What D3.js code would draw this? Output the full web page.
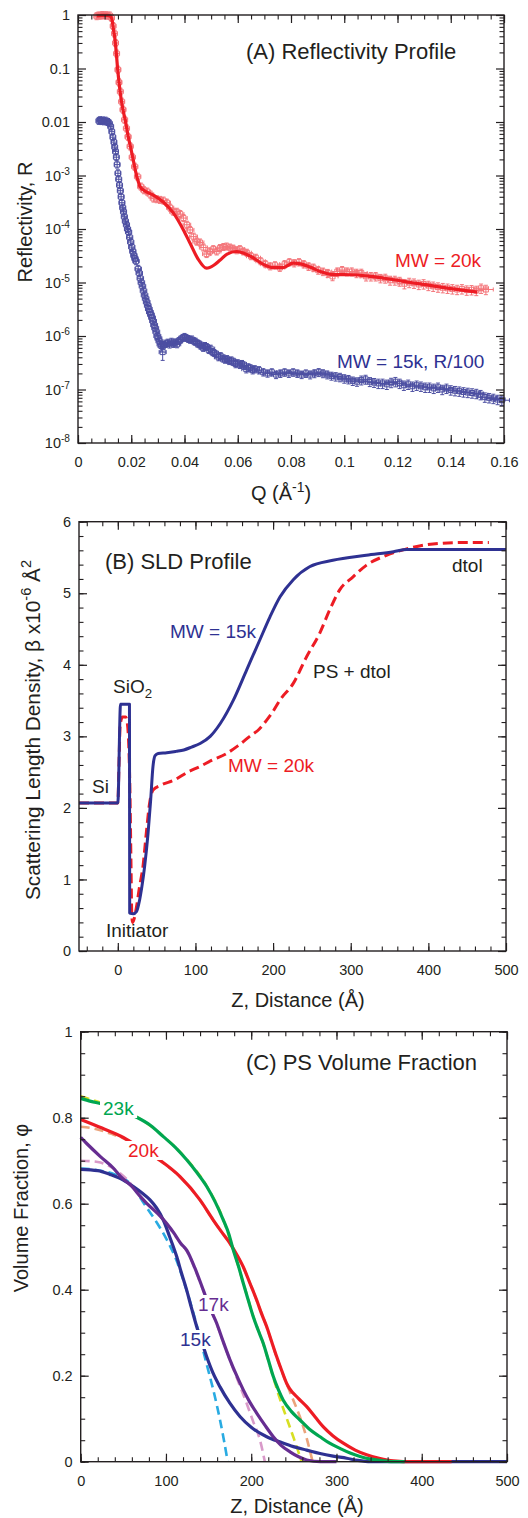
<!DOCTYPE html>
<html>
<head>
<meta charset="utf-8">
<script src="https://cdn.jsdelivr.net/npm/d3@7"></script>
<style>
  body { margin: 0; background: #fff; }
  svg { display: block; font-family: "Liberation Sans", Arial, Helvetica, sans-serif; }
</style>
</head>
<body>
<div id="chart"></div>
<script>
// ---------- (A) reflectivity: [Q, R, relative error] ----------
const reflData20k = [
  [0.0070, 0.95, 0.04], [0.0077, 0.98, 0.04], [0.0084, 0.97, 0.04], [0.0091, 1.0, 0.04],
  [0.0098, 0.98, 0.04], [0.0105, 0.99, 0.04], [0.0112, 0.97, 0.04], [0.0119, 0.98, 0.04],
  [0.0126, 0.88, 0.04], [0.0132, 0.62, 0.04], [0.0137, 0.45, 0.04], [0.0141, 0.30, 0.04],
  [0.0145, 0.19, 0.04], [0.0150, 0.095, 0.04], [0.0154, 0.055, 0.04], [0.0159, 0.037, 0.04],
  [0.0164, 0.024, 0.04], [0.0169, 0.017, 0.04], [0.0175, 0.011, 0.04], [0.0182, 0.0076, 0.04],
  [0.0188, 0.0053, 0.04], [0.0196, 0.0035, 0.04], [0.0204, 0.0022, 0.05], [0.0213, 0.00146, 0.05],
  [0.0224, 0.00095, 0.05], [0.0236, 0.00062, 0.05], [0.0248, 0.00053, 0.06], [0.0260, 0.00050, 0.06],
  [0.0272, 0.00044, 0.06], [0.0284, 0.00037, 0.07], [0.0296, 0.00036, 0.07], [0.0308, 0.00035, 0.07],
  [0.0321, 0.00034, 0.08], [0.0334, 0.00031, 0.08], [0.0346, 0.00025, 0.08], [0.0358, 0.00021, 0.09],
  [0.0371, 0.00021, 0.09], [0.0384, 0.00019, 0.09], [0.0396, 0.00016, 0.1], [0.0409, 0.00012, 0.1],
  [0.0421, 0.000096, 0.1], [0.0434, 0.000072, 0.1], [0.0446, 0.000058, 0.12], [0.0458, 0.000056, 0.12],
  [0.0471, 0.000045, 0.12], [0.0483, 0.000034, 0.14], [0.0496, 0.000038, 0.14], [0.0508, 0.000042, 0.12],
  [0.0521, 0.000038, 0.12], [0.0533, 0.000044, 0.12], [0.0546, 0.000046, 0.12], [0.0558, 0.000047, 0.12],
  [0.0571, 0.000045, 0.12], [0.0583, 0.000043, 0.12], [0.0596, 0.000040, 0.12], [0.0608, 0.000042, 0.12],
  [0.0621, 0.000038, 0.12], [0.0634, 0.000036, 0.12], [0.0650, 0.000031, 0.13], [0.0668, 0.000029, 0.13],
  [0.0686, 0.000025, 0.13], [0.0704, 0.000022, 0.14], [0.0722, 0.000020, 0.14], [0.0740, 0.000021, 0.14],
  [0.0758, 0.000019, 0.15], [0.0776, 0.000022, 0.15], [0.0794, 0.000024, 0.15], [0.0812, 0.000023, 0.15],
  [0.0830, 0.000024, 0.15], [0.0848, 0.000022, 0.15], [0.0866, 0.000020, 0.16], [0.0884, 0.000019, 0.16],
  [0.0902, 0.000017, 0.16], [0.0920, 0.000016, 0.16], [0.0938, 0.000015, 0.17], [0.0956, 0.000013, 0.17],
  [0.0974, 0.000016, 0.17], [0.0992, 0.000017, 0.17], [0.1010, 0.000016, 0.17], [0.1028, 0.000016, 0.17],
  [0.1046, 0.000015, 0.18], [0.1064, 0.000015, 0.18], [0.1082, 0.000013, 0.18], [0.1100, 0.000013, 0.18],
  [0.1118, 0.000013, 0.18], [0.1136, 0.000012, 0.18], [0.1154, 0.000012, 0.19], [0.1172, 0.000011, 0.19],
  [0.1190, 0.000011, 0.19], [0.1208, 0.0000105, 0.19], [0.1226, 0.0000095, 0.2], [0.1244, 0.0000100, 0.2],
  [0.1262, 0.0000097, 0.2], [0.1280, 0.0000092, 0.2], [0.1298, 0.0000094, 0.2], [0.1316, 0.0000088, 0.2],
  [0.1334, 0.0000085, 0.2], [0.1352, 0.0000082, 0.2], [0.1370, 0.0000080, 0.2], [0.1388, 0.0000078, 0.2],
  [0.1406, 0.0000076, 0.2], [0.1424, 0.0000074, 0.2], [0.1442, 0.0000076, 0.2], [0.1460, 0.0000072, 0.2],
  [0.1478, 0.0000073, 0.2], [0.1496, 0.0000071, 0.2], [0.1514, 0.0000078, 0.2], [0.1532, 0.0000074, 0.2]
];

const reflFit20k = [
  [0.0070, 0.96], [0.0090, 0.98], [0.0110, 0.98], [0.0122, 0.95], [0.0128, 0.80], [0.0133, 0.55],
  [0.0138, 0.38], [0.0143, 0.22], [0.0148, 0.11], [0.0155, 0.05], [0.0163, 0.025], [0.0170, 0.016],
  [0.0178, 0.0105], [0.0188, 0.0055], [0.0198, 0.0033], [0.0208, 0.0019], [0.0218, 0.0011],
  [0.0226, 0.00078], [0.0233, 0.00062], [0.0250, 0.00052], [0.0283, 0.00043], [0.0320, 0.00032],
  [0.0358, 0.00020], [0.0396, 0.000096], [0.0421, 0.000054], [0.0450, 0.000028], [0.0483, 0.0000185],
  [0.0510, 0.000021], [0.0533, 0.000026], [0.0560, 0.000034], [0.0596, 0.000038], [0.0625, 0.000035],
  [0.0658, 0.000029], [0.0695, 0.000022], [0.0733, 0.000019], [0.0770, 0.000019], [0.0808, 0.000023],
  [0.0840, 0.000022], [0.0871, 0.0000195], [0.0910, 0.0000160], [0.0950, 0.0000142], [0.1000, 0.0000140],
  [0.1050, 0.0000138], [0.1100, 0.0000130], [0.1150, 0.0000120], [0.1200, 0.0000110], [0.1250, 0.0000100],
  [0.1300, 0.0000092], [0.1350, 0.0000084], [0.1400, 0.0000077], [0.1450, 0.0000071], [0.1500, 0.0000066]
];

const reflData15k = [
  [0.0078, 0.0105, 0.04], [0.0083, 0.0108, 0.04], [0.0088, 0.0104, 0.04], [0.0093, 0.0107, 0.04],
  [0.0098, 0.0103, 0.04], [0.0103, 0.0106, 0.04], [0.0108, 0.0102, 0.04], [0.0113, 0.0100, 0.04],
  [0.0118, 0.0094, 0.04], [0.0123, 0.0082, 0.04], [0.0127, 0.0066, 0.04], [0.0131, 0.0052, 0.04],
  [0.0135, 0.0042, 0.04], [0.0138, 0.0034, 0.04], [0.0141, 0.0028, 0.04], [0.0144, 0.0022, 0.04],
  [0.0147, 0.0016, 0.04], [0.0150, 0.0011, 0.04], [0.0153, 0.00085, 0.04], [0.0156, 0.00066, 0.04],
  [0.0159, 0.00052, 0.04], [0.0162, 0.00040, 0.04], [0.0165, 0.00031, 0.04], [0.0168, 0.00025, 0.04],
  [0.0171, 0.00021, 0.04], [0.0174, 0.00017, 0.04], [0.0178, 0.00014, 0.04], [0.0182, 0.00012, 0.04],
  [0.0186, 0.00010, 0.04], [0.0190, 0.000088, 0.04], [0.0194, 0.000070, 0.04], [0.0198, 0.000057, 0.04],
  [0.0202, 0.000046, 0.04], [0.0206, 0.000038, 0.04], [0.0210, 0.000032, 0.05], [0.0214, 0.000028, 0.05],
  [0.0218, 0.000025, 0.05], [0.0226, 0.000018, 0.05], [0.0230, 0.000015, 0.05], [0.0234, 0.000012, 0.05],
  [0.0238, 0.0000100, 0.05], [0.0242, 0.0000085, 0.05], [0.0246, 0.0000070, 0.06], [0.0250, 0.0000058, 0.06],
  [0.0254, 0.0000050, 0.06], [0.0258, 0.0000043, 0.06], [0.0262, 0.0000037, 0.06], [0.0266, 0.0000032, 0.06],
  [0.0270, 0.0000028, 0.07], [0.0274, 0.0000025, 0.07], [0.0278, 0.0000022, 0.07], [0.0282, 0.0000019, 0.07],
  [0.0286, 0.0000016, 0.08], [0.0290, 0.0000014, 0.08], [0.0294, 0.0000012, 0.08], [0.0298, 0.0000010, 0.1],
  [0.0302, 0.00000090, 0.1], [0.0306, 0.00000080, 0.12], [0.0310, 0.00000070, 0.15], [0.0314, 0.00000065, 0.2],
  [0.0318, 0.00000050, 0.3], [0.0323, 0.00000068, 0.15], [0.0330, 0.00000072, 0.15], [0.0337, 0.00000075, 0.15],
  [0.0344, 0.00000070, 0.15], [0.0351, 0.00000078, 0.15], [0.0358, 0.00000072, 0.15], [0.0365, 0.00000076, 0.12],
  [0.0372, 0.00000070, 0.12], [0.0379, 0.00000080, 0.12], [0.0386, 0.00000086, 0.12], [0.0393, 0.00000092, 0.12],
  [0.0400, 0.00000096, 0.12], [0.0407, 0.00000092, 0.12], [0.0414, 0.00000088, 0.12], [0.0421, 0.00000085, 0.12],
  [0.0428, 0.00000086, 0.12], [0.0435, 0.00000080, 0.12], [0.0442, 0.00000078, 0.12], [0.0449, 0.00000072, 0.12],
  [0.0456, 0.00000070, 0.12], [0.0463, 0.00000066, 0.12], [0.0470, 0.00000060, 0.12], [0.0477, 0.00000065, 0.14],
  [0.0484, 0.00000062, 0.14], [0.0491, 0.00000055, 0.14], [0.0498, 0.00000058, 0.14], [0.0505, 0.00000050, 0.14],
  [0.0512, 0.00000048, 0.14], [0.0520, 0.00000045, 0.14], [0.0528, 0.00000040, 0.14], [0.0536, 0.00000042, 0.14],
  [0.0544, 0.00000038, 0.14], [0.0552, 0.00000036, 0.14], [0.0560, 0.00000037, 0.14], [0.0568, 0.00000034, 0.14],
  [0.0576, 0.00000035, 0.14], [0.0584, 0.00000033, 0.15], [0.0592, 0.00000030, 0.15], [0.0600, 0.00000031, 0.15],
  [0.0608, 0.00000029, 0.15], [0.0616, 0.00000030, 0.15], [0.0624, 0.00000028, 0.15], [0.0632, 0.00000024, 0.15],
  [0.0640, 0.00000026, 0.15], [0.0648, 0.00000025, 0.15], [0.0656, 0.00000023, 0.15], [0.0664, 0.00000024, 0.15],
  [0.0680, 0.00000023, 0.15], [0.0696, 0.00000021, 0.15], [0.0712, 0.00000020, 0.15], [0.0728, 0.00000021, 0.15],
  [0.0744, 0.00000019, 0.16], [0.0760, 0.00000020, 0.16], [0.0776, 0.00000021, 0.16], [0.0792, 0.00000020, 0.16],
  [0.0808, 0.00000021, 0.16], [0.0824, 0.00000020, 0.16], [0.0840, 0.00000019, 0.16], [0.0856, 0.00000020, 0.16],
  [0.0872, 0.00000019, 0.17], [0.0888, 0.00000020, 0.17], [0.0904, 0.00000021, 0.17], [0.0920, 0.00000020, 0.17],
  [0.0936, 0.00000019, 0.17], [0.0952, 0.00000018, 0.17], [0.0968, 0.000000175, 0.18], [0.0984, 0.00000017, 0.18],
  [0.1000, 0.00000016, 0.18], [0.1016, 0.000000155, 0.18], [0.1032, 0.000000145, 0.18], [0.1048, 0.00000014, 0.18],
  [0.1064, 0.00000015, 0.19], [0.1080, 0.000000155, 0.19], [0.1096, 0.00000014, 0.19], [0.1112, 0.000000135, 0.19],
  [0.1128, 0.00000013, 0.2], [0.1144, 0.00000013, 0.2], [0.1160, 0.000000125, 0.2], [0.1176, 0.000000135, 0.2],
  [0.1192, 0.00000014, 0.2], [0.1208, 0.00000013, 0.2], [0.1224, 0.00000012, 0.2], [0.1240, 0.000000125, 0.2],
  [0.1256, 0.000000115, 0.2], [0.1272, 0.00000012, 0.2], [0.1288, 0.000000115, 0.2], [0.1304, 0.00000011, 0.2],
  [0.1320, 0.00000011, 0.2], [0.1336, 0.000000105, 0.2], [0.1352, 0.00000011, 0.2], [0.1368, 0.00000010, 0.2],
  [0.1384, 0.000000105, 0.2], [0.1400, 0.000000098, 0.2], [0.1416, 0.000000095, 0.2], [0.1432, 0.000000093, 0.2],
  [0.1448, 0.00000009, 0.2], [0.1464, 0.000000088, 0.2], [0.1480, 0.000000086, 0.2], [0.1496, 0.000000084, 0.2],
  [0.1512, 0.00000008, 0.2], [0.1528, 0.000000072, 0.2], [0.1544, 0.00000007, 0.2], [0.1560, 0.000000068, 0.2],
  [0.1576, 0.000000065, 0.2], [0.1592, 0.000000063, 0.2]
];

const qTicks = [0, 0.02, 0.04, 0.06, 0.08, 0.1, 0.12, 0.14, 0.16];
const qTickLabels = ["0", "0.02", "0.04", "0.06", "0.08", "0.1", "0.12", "0.14", "0.16"];
const rTicks = [1, 0.1, 0.01, 1e-3, 1e-4, 1e-5, 1e-6, 1e-7, 1e-8];
const rTickLabels = [[["1", 0]], [["0.1", 0]], [["0.01", 0]], [["10", 0], ["-3", 1]], [["10", 0], ["-4", 1]],
  [["10", 0], ["-5", 1]], [["10", 0], ["-6", 1]], [["10", 0], ["-7", 1]], [["10", 0], ["-8", 1]]];

// ---------- (B) SLD profile: [z, SLD] ----------
const sld15k = [
  [-50, 2.07], [0, 2.07], [3.5, 3.45], [15, 3.45], [15.3, 0.53], [20, 0.52], [24, 0.55], [28, 0.71],
  [31, 0.9], [34.5, 1.18], [38.9, 1.64], [42.3, 2.11], [45.3, 2.58], [48, 2.73], [52, 2.76], [63, 2.77],
  [75, 2.79], [85, 2.81], [95, 2.85], [106, 2.9], [119, 3.0], [132, 3.18], [149, 3.51], [166, 3.93],
  [183, 4.35], [196, 4.67], [209, 4.95], [226, 5.19], [247, 5.37], [277, 5.46], [320, 5.53], [355, 5.58],
  [372, 5.61], [400, 5.61], [500, 5.61]
];
const sld20k = [
  [-50, 2.07], [0, 2.07], [1.5, 2.6], [3, 3.15], [6, 3.27], [10, 3.27], [12, 3.2], [14, 2.9], [15.5, 2.3],
  [17, 1.2], [18, 0.5], [19, 0.4], [21, 0.45], [23.8, 0.6], [28, 0.9], [32.4, 1.18], [36.7, 1.65], [41, 2.07],
  [45.3, 2.25], [56, 2.32], [73, 2.39], [90, 2.5], [106, 2.58], [120, 2.66], [140, 2.76], [155, 2.87],
  [170, 3.0], [182, 3.1], [192, 3.23], [200, 3.35], [209, 3.51], [226, 3.74], [243, 4.11], [260, 4.44],
  [273, 4.77], [286, 5.05], [303, 5.23], [320, 5.39], [346, 5.53], [372, 5.62], [406, 5.69], [449, 5.71],
  [478, 5.71]
];
const zTicks = [0, 100, 200, 300, 400, 500];
const sldTicks = [0, 1, 2, 3, 4, 5, 6];

// ---------- (C) PS volume fraction: [z, phi] ----------
const phi23k = [
  [0, 0.845], [12, 0.838], [24.6, 0.832], [45, 0.818], [65.7, 0.801], [82, 0.782], [96.9, 0.756],
  [111, 0.731], [124.3, 0.702], [136, 0.673], [147.8, 0.640], [158, 0.603], [167.3, 0.562], [174, 0.528],
  [179, 0.492], [185, 0.455], [190.7, 0.415], [196.5, 0.376], [202.4, 0.337], [208.3, 0.305], [214.2, 0.275],
  [220, 0.237], [225.9, 0.198], [231.7, 0.168], [237.6, 0.143], [247, 0.117], [257.2, 0.097], [268, 0.076],
  [280.7, 0.058], [292, 0.043], [304.1, 0.031], [316, 0.02], [327.6, 0.012], [340, 0.006], [355, 0.002],
  [370, 0], [380, 0]
];
const fit23k = [
  [0, 0.85], [24.6, 0.834], [65.7, 0.802], [96.9, 0.757], [124.3, 0.703], [147.8, 0.641], [167.3, 0.563],
  [179, 0.493], [190.7, 0.416], [202.4, 0.338], [214.2, 0.274], [225.9, 0.196], [233, 0.15], [240, 0.11],
  [249.3, 0.058], [255, 0.025], [259, 0]
];
const phi20k = [
  [0, 0.796], [25, 0.776], [50, 0.754], [72, 0.727], [95, 0.698], [116.5, 0.663], [139.9, 0.609],
  [155.5, 0.562], [165, 0.535], [175.1, 0.508], [183, 0.482], [190.7, 0.453], [198.5, 0.415], [206.4, 0.376],
  [212, 0.345], [218.2, 0.314], [224, 0.279], [229.9, 0.244], [235.7, 0.212], [241.6, 0.182], [245, 0.17],
  [255, 0.148], [265.1, 0.128], [275, 0.104], [284.6, 0.081], [296, 0.06], [308, 0.043], [322, 0.027],
  [335.4, 0.016], [350, 0.008], [366.7, 0.002], [390, 0], [435, 0]
];
const fit20k = [
  [0, 0.779], [15, 0.775], [35, 0.763], [50, 0.752], [72, 0.725], [95, 0.697], [116.5, 0.662], [139.9, 0.608],
  [155.5, 0.561], [175.1, 0.507], [190.7, 0.452], [206.4, 0.375], [218.2, 0.313], [229.9, 0.243],
  [241.6, 0.181], [250, 0.14], [257, 0.105], [265, 0.055], [272, 0]
];
const phi17k = [
  [0, 0.754], [7, 0.74], [23.4, 0.709], [38.2, 0.683], [46.9, 0.663], [60, 0.64], [70.3, 0.616],
  [77.4, 0.601], [93.8, 0.57], [100.9, 0.554], [110, 0.53], [117.2, 0.508], [124.3, 0.492], [134, 0.45],
  [143.8, 0.399], [151, 0.36], [159.5, 0.322], [167, 0.28], [175.1, 0.237], [183, 0.2], [190.7, 0.167],
  [198.5, 0.138], [206.4, 0.113], [216, 0.085], [225.9, 0.058], [235, 0.038], [245.5, 0.023], [255, 0.012],
  [265.1, 0.004], [281, 0], [300, 0]
];
const fit17k = [
  [0, 0.70], [20, 0.697], [40, 0.68], [55, 0.655], [70.3, 0.616], [93.8, 0.57], [117.2, 0.508],
  [124.3, 0.49], [143.8, 0.398], [159.5, 0.32], [175.1, 0.236], [186, 0.18], [194.6, 0.136], [202, 0.095],
  [210.3, 0.05], [216, 0]
];
const phi15k = [
  [0, 0.68], [20, 0.677], [34.4, 0.668], [50, 0.655], [61.8, 0.64], [72, 0.625], [81.3, 0.609], [89, 0.59],
  [96.9, 0.562], [104, 0.525], [112.6, 0.477], [118, 0.44], [124.3, 0.399], [130, 0.357], [136.1, 0.314],
  [142, 0.278], [147.8, 0.244], [155, 0.207], [163.4, 0.174], [175, 0.136], [186.8, 0.105], [200, 0.08],
  [218.2, 0.058], [235, 0.045], [249.4, 0.035], [265, 0.027], [280.7, 0.019], [296, 0.013], [312, 0.008],
  [325, 0.003], [340, 0], [500, 0]
];
const fit15k = [
  [0, 0.682], [20, 0.678], [40, 0.668], [60, 0.643], [75, 0.598], [88, 0.56], [100, 0.52], [112, 0.47],
  [124, 0.40], [136, 0.318], [147.8, 0.226], [155.5, 0.167], [163.4, 0.097], [168, 0.05], [172.4, 0]
];
const phiTicks = [0, 0.2, 0.4, 0.6, 0.8, 1];
const phiTickLabels = ["0", "0.2", "0.4", "0.6", "0.8", "1"];

// ---------- drawing ----------
const INK = "#231f20", RED = "#ed1c24", NAVY = "#2e3192";
const GREEN = "#00a651", PURPLE = "#662d91";
const YELLOW = "#d7df23", TAN = "#eba47c", PINK = "#d99ac9", CYAN = "#29abe2";
const TICK_FONT = 14.5, AXIS_FONT = 20, TITLE_FONT = 22, LABEL_FONT = 19;

const svg = d3.select("#chart").append("svg").attr("width", 528).attr("height", 1518);
svg.append("rect").attr("width", 528).attr("height", 1518).attr("fill", "#fff");

// text with super (1) / subscript (-1) parts
function rich(t, parts, size) {
  let cur = 0;
  parts.forEach(([s, k]) => {
    const off = k > 0 ? -0.42 * size : k < 0 ? 0.28 * size : 0;
    const ts = t.append("tspan").attr("font-size", k ? 0.7 * size : size).text(s);
    if (off - cur !== 0) ts.attr("dy", off - cur);
    cur = off;
  });
  return t;
}

function label(g, x, y, parts, size, color, opts = {}) {
  const t = g.append("text").attr("x", x).attr("y", y).attr("fill", color).attr("font-size", size);
  if (opts.anchor) t.attr("text-anchor", opts.anchor);
  if (opts.rotate) t.attr("transform", `rotate(-90,${x},${y})`);
  return rich(t, parts, size);
}

// box with inward major/minor ticks on all four sides
function frame(g, x, y, o) {
  const [l, r] = x.range(), [b, t] = y.range();
  const sides = [
    [d3.axisBottom, x, `translate(0,${b})`, o.xMajor, o.xMinor, o.xFmt, 14],
    [d3.axisTop, x, `translate(0,${t})`, o.xMajor, o.xMinor, null, 0],
    [d3.axisLeft, y, `translate(${l},0)`, o.yMajor, o.yMinor, o.yFmt, 8],
    [d3.axisRight, y, `translate(${r},0)`, o.yMajor, o.yMinor, null, 0]
  ];
  sides.forEach(([axisFn, sc, tr, major, minor, fmt, pad]) => {
    g.append("g").attr("transform", tr)
      .call(axisFn(sc).tickValues(minor).tickSize(-4.5).tickFormat(""))
      .call(s => s.select(".domain").remove())
      .selectAll("line").attr("stroke", INK).attr("stroke-width", 1.1);
    const a = g.append("g").attr("transform", tr)
      .call(axisFn(sc).tickValues(major).tickSize(-8).tickPadding(pad).tickFormat(fmt ? (d, i) => fmt(d, i) : ""))
      .call(s => s.select(".domain").remove())
      .attr("font-family", null).attr("font-size", null);
    a.selectAll("line").attr("stroke", INK).attr("stroke-width", 1.2);
    a.selectAll("text").attr("fill", INK).attr("font-size", TICK_FONT);
    if (fmt && o.yRich && axisFn === d3.axisLeft) {
      a.selectAll("text").each(function (d, i) {
        rich(d3.select(this).text(null), o.yRich[i], TICK_FONT);
      });
    }
  });
  g.append("rect").attr("x", l).attr("y", t).attr("width", r - l).attr("height", b - t)
    .attr("fill", "none").attr("stroke", INK).attr("stroke-width", 1.4);
}

// ===== Panel A =====
const xA = d3.scaleLinear().domain([0, 0.16]).range([78, 504]);
const yA = d3.scaleLog().domain([1e-8, 1]).range([443, 15]);
const gA = svg.append("g");

function errPoints(g, data, color, opacity) {
  const Q_RES = 0.012;
  g.append("g").attr("fill", "none").attr("stroke", color).attr("stroke-width", 1).attr("opacity", opacity)
    .selectAll("path").data(data).join("path")
    .attr("d", ([q, r, e]) => {
      const cx = xA(q), cy = yA(r);
      const xl = xA(q * (1 - Q_RES)) - 2.5, xr = xA(q * (1 + Q_RES)) + 2.5;
      const yt = Math.min(yA(r * (1 + e)), cy - 3.5), yb = Math.max(yA(r * (1 - e)), cy + 3.5);
      return `M${xl},${cy}H${xr}M${xl},${cy - 2}V${cy + 2}M${xr},${cy - 2}V${cy + 2}` +
        `M${cx},${yt}V${yb}M${cx - 2},${yt}H${cx + 2}M${cx - 2},${yb}H${cx + 2}` +
        `M${cx - 2.5},${cy - 2.5}h5v5h-5z`;
    });
}

errPoints(gA, reflData20k, RED, 0.6);
gA.append("path").datum(reflFit20k)
  .attr("fill", "none").attr("stroke", RED).attr("stroke-width", 3.2).attr("stroke-linejoin", "round")
  .attr("d", d3.line().x(d => xA(d[0])).y(d => yA(d[1])).curve(d3.curveMonotoneX));
errPoints(gA, reflData15k, NAVY, 0.85);

const rMinor = yA.ticks().filter(v => Math.abs(Math.log10(v) - Math.round(Math.log10(v))) > 1e-6);
frame(gA, xA, yA, {
  xMajor: qTicks, xMinor: d3.range(0, 0.1601, 0.005), xFmt: (d, i) => qTickLabels[i],
  yMajor: rTicks, yMinor: rMinor, yFmt: () => "", yRich: rTickLabels
});

label(gA, 246, 59, [["(A) Reflectivity Profile", 0]], TITLE_FONT, INK);
label(gA, 395, 267, [["MW = 20k", 0]], LABEL_FONT, RED);
label(gA, 337, 368, [["MW = 15k, R/100", 0]], LABEL_FONT, NAVY);
label(gA, 281, 500, [["Q (Å", 0], ["-1", 1], [")", 0]], AXIS_FONT, INK, { anchor: "middle" });
label(gA, 32, 222, [["Reflectivity, R", 0]], AXIS_FONT, INK, { anchor: "middle", rotate: true });

// ===== Panel B =====
const xB = d3.scaleLinear().domain([-50, 500]).range([79, 506]);
const yB = d3.scaleLinear().domain([0, 6]).range([951, 521.7]);
const gB = svg.append("g");
const lineB = d3.line().x(d => xB(d[0])).y(d => yB(d[1])).curve(d3.curveMonotoneX);

gB.append("path").datum(sld20k)
  .attr("fill", "none").attr("stroke", RED).attr("stroke-width", 3).attr("stroke-dasharray", "10,5")
  .attr("d", lineB);
gB.append("path").datum(sld15k)
  .attr("fill", "none").attr("stroke", NAVY).attr("stroke-width", 3).attr("stroke-linejoin", "round")
  .attr("d", lineB);

frame(gB, xB, yB, {
  xMajor: zTicks, xMinor: d3.range(-40, 500, 20), xFmt: d => String(d),
  yMajor: sldTicks, yMinor: d3.range(0, 6.01, 0.2), yFmt: d => String(d)
});

label(gB, 105, 569, [["(B) SLD Profile", 0]], TITLE_FONT, INK);
label(gB, 170, 638, [["MW = 15k", 0]], LABEL_FONT, NAVY);
label(gB, 313, 678, [["PS + dtol", 0]], LABEL_FONT, INK);
label(gB, 228, 772, [["MW = 20k", 0]], LABEL_FONT, RED);
label(gB, 452, 572, [["dtol", 0]], LABEL_FONT, INK);
label(gB, 113, 693, [["SiO", 0], ["2", -1]], LABEL_FONT, INK);
label(gB, 92, 793, [["Si", 0]], LABEL_FONT, INK);
label(gB, 106, 937, [["Initiator", 0]], LABEL_FONT, INK);
label(gB, 298, 1007, [["Z, Distance (Å)", 0]], AXIS_FONT, INK, { anchor: "middle" });
label(gB, 40, 730, [["Scattering Length Density, β x10", 0], ["-6", 1], [" Å", 0], ["2", 1]],
  20.8, INK, { anchor: "middle", rotate: true });

// ===== Panel C =====
const xC = d3.scaleLinear().domain([0, 500]).range([80.7, 507]);
const yC = d3.scaleLinear().domain([0, 1]).range([1461.7, 1031.7]);
const gC = svg.append("g");
const lineC = d3.line().x(d => xC(d[0])).y(d => yC(d[1])).curve(d3.curveMonotoneX);

const fits = [[fit15k, CYAN], [fit17k, PINK], [fit20k, TAN], [fit23k, YELLOW]];
fits.forEach(([d, c]) => gC.append("path").datum(d)
  .attr("fill", "none").attr("stroke", c).attr("stroke-width", 2.6).attr("stroke-dasharray", "9,5")
  .attr("d", lineC));
const solids = [[phi15k, NAVY], [phi17k, PURPLE], [phi20k, RED], [phi23k, GREEN]];
solids.forEach(([d, c]) => gC.append("path").datum(d)
  .attr("fill", "none").attr("stroke", c).attr("stroke-width", 3.2).attr("stroke-linejoin", "round")
  .attr("d", lineC));

// curve labels sit in a gap cut out of their curves
[["23k", 103, 1115, GREEN], ["20k", 128, 1157, RED], ["17k", 198, 1311, PURPLE], ["15k", 180, 1346, NAVY]]
  .forEach(([s, x, y, c]) => {
    const t = label(gC, x, y, [[s, 0]], LABEL_FONT, c);
    const bb = t.node().getBBox();
    gC.insert("rect", function () { return t.node(); })
      .attr("x", bb.x - 3).attr("y", bb.y + 1).attr("width", bb.width + 6).attr("height", bb.height - 2)
      .attr("fill", "#fff");
  });

frame(gC, xC, yC, {
  xMajor: zTicks, xMinor: d3.range(0, 501, 20), xFmt: d => String(d),
  yMajor: phiTicks, yMinor: d3.range(0, 1.001, 0.05), yFmt: (d, i) => phiTickLabels[i]
});

label(gC, 246, 1070, [["(C) PS Volume Fraction", 0]], TITLE_FONT, INK);
label(gC, 297, 1513, [["Z, Distance (Å)", 0]], AXIS_FONT, INK, { anchor: "middle" });
label(gC, 28, 1208, [["Volume Fraction, φ", 0]], AXIS_FONT, INK, { anchor: "middle", rotate: true });
</script>
</body>
</html>
